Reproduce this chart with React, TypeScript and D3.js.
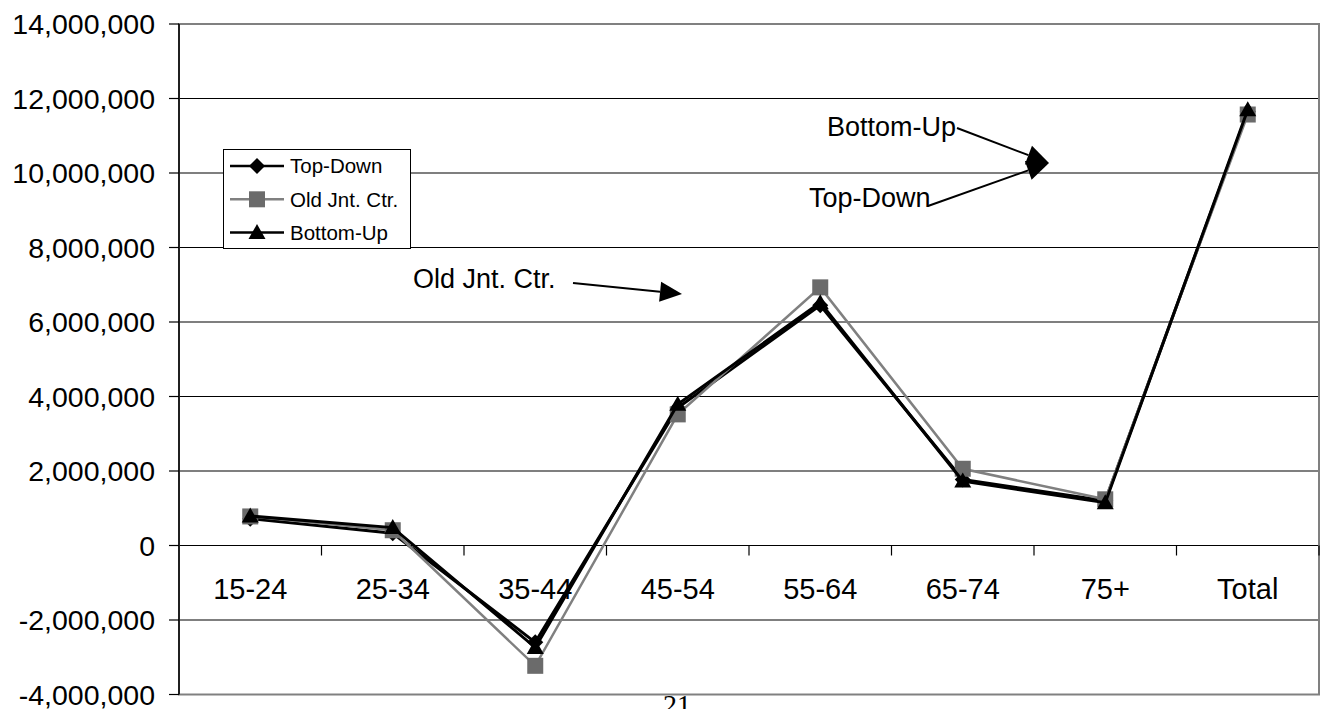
import React from "react";
import * as d3 from "d3";

// values
const categories = ["15-24", "25-34", "35-44", "45-54", "55-64", "65-74", "75+", "Total"];
const topDown = [720000, 330000, -2600000, 3700000, 6450000, 1770000, 1200000, 11650000];
const oldJntCtr = [780000, 410000, -3230000, 3520000, 6930000, 2060000, 1240000, 11570000];
const bottomUp = [790000, 480000, -2740000, 3790000, 6520000, 1730000, 1150000, 11700000];
const yTicks = [-4000000, -2000000, 0, 2000000, 4000000, 6000000, 8000000, 10000000, 12000000, 14000000];
const seriesNames = ["Top-Down", "Old Jnt. Ctr.", "Bottom-Up"];

const width = 1323;
const height = 709;
const plot = { left: 179, right: 1319, top: 24, bottom: 694.5 };
const sans = "'Liberation Sans', Arial, sans-serif";

const fmt = d3
    .formatLocale({ decimal: ".", thousands: ",", grouping: [3], currency: ["$", ""], minus: "-" })
    .format(",");

const diamond = (r: number) => `M0,${-r}L${r},0L0,${r}L${-r},0Z`;
const triangle = "M0,-8.5L8.5,6.5L-8.5,6.5Z";

const Marker = ({ kind, x, y }: any) => {
    if (kind === 0) return <path d={diamond(8)} transform={`translate(${x},${y})`} fill="#000" />;
    if (kind === 1) return <rect x={x - 8} y={y - 8} width={16} height={16} fill="#6b6b6b" />;
    return <path d={triangle} transform={`translate(${x},${y})`} fill="#000" />;
};

// line with a filled arrow head at (x2, y2)
const Arrow = ({ x1, y1, x2, y2 }: any) => {
    const len = 22;
    const half = 10;
    const a = Math.atan2(y2 - y1, x2 - x1);
    const bx = x2 - len * Math.cos(a);
    const by = y2 - len * Math.sin(a);
    const px = -Math.sin(a) * half;
    const py = Math.cos(a) * half;
    return (
        <g>
            <line x1={x1} y1={y1} x2={bx} y2={by} stroke="#000" strokeWidth={2} />
            <path d={`M${x2},${y2}L${bx + px},${by + py}L${bx - px},${by - py}Z`} fill="#000" />
        </g>
    );
};

export default function App() {
    const x = d3.scaleBand().domain(categories).range([plot.left, plot.right]);
    const y = d3.scaleLinear().domain([-4000000, 14000000]).range([plot.bottom, plot.top]);
    const cx = (i: number) => (x(categories[i]) as number) + x.bandwidth() / 2;
    const line = d3
        .line<number>()
        .x((_, i) => cx(i))
        .y((d) => y(d));

    const series = [
        { values: topDown, color: "#000", w: 3 },
        { values: oldJntCtr, color: "#808080", w: 2.5 },
        { values: bottomUp, color: "#000", w: 3 },
    ];

    const boundaries = categories.map((c) => x(c) as number).slice(1).concat([plot.right]);

    return (
        <svg
            width={width}
            height={height}
            style={{ position: "absolute", left: 0, top: 0, background: "#fff" }}
        >
            <rect width={width} height={height} fill="#fff" />
            {/* page number behind the plot */}
            <text x={677} y={714} fontFamily="'Liberation Serif', 'Times New Roman', serif" fontSize={28} textAnchor="middle">
                21
            </text>
            <rect
                x={plot.left}
                y={plot.top}
                width={plot.right - plot.left}
                height={plot.bottom - plot.top}
                fill="#fff"
            />
            {/* gridlines */}
            {yTicks.slice(1, -1).map((t) => (
                <line key={t} x1={plot.left} x2={plot.right} y1={y(t)} y2={y(t)} stroke="#000" strokeWidth={1.2} />
            ))}
            <rect
                x={plot.left}
                y={plot.top}
                width={plot.right - plot.left}
                height={plot.bottom - plot.top}
                fill="none"
                stroke="#808080"
                strokeWidth={2}
            />
            {/* y axis */}
            <line x1={plot.left} x2={plot.left} y1={plot.top} y2={plot.bottom} stroke="#000" strokeWidth={1.5} />
            {yTicks.map((t) => (
                <g key={t}>
                    <line x1={plot.left - 10} x2={plot.left} y1={y(t)} y2={y(t)} stroke="#000" strokeWidth={1.2} />
                    <text x={155} y={y(t)} dy="0.36em" textAnchor="end" fontFamily={sans} fontSize={28.5}>
                        {fmt(t)}
                    </text>
                </g>
            ))}
            {/* category axis at zero */}
            {boundaries.map((b, i) => (
                <line key={i} x1={b} x2={b} y1={y(0)} y2={y(0) + 10} stroke="#000" strokeWidth={1.2} />
            ))}
            {categories.map((c, i) => (
                <text key={c} x={cx(i)} y={599} textAnchor="middle" fontFamily={sans} fontSize={29}>
                    {c}
                </text>
            ))}
            {/* series */}
            {series.map((s, k) => (
                <g key={k}>
                    <path d={line(s.values) as string} fill="none" stroke={s.color} strokeWidth={s.w} />
                    {s.values.map((v, i) => (
                        <Marker key={i} kind={k} x={cx(i)} y={y(v)} />
                    ))}
                </g>
            ))}
            {/* legend */}
            <g>
                <rect x={223.5} y={149.5} width={187} height={99} fill="#fff" stroke="#000" strokeWidth={1} />
                {seriesNames.map((n, k) => {
                    const ry = 166 + k * 33.3;
                    return (
                        <g key={n}>
                            <line x1={230} x2={284} y1={ry} y2={ry} stroke={series[k].color} strokeWidth={2.5} />
                            <Marker kind={k} x={257} y={ry} />
                            <text x={290} y={ry} dy="0.36em" fontFamily={sans} fontSize={20.5}>
                                {n}
                            </text>
                        </g>
                    );
                })}
            </g>
            {/* annotations */}
            <text x={413} y={288} fontFamily={sans} fontSize={27}>
                Old Jnt. Ctr.
            </text>
            <Arrow x1={573} y1={283} x2={682} y2={294} />
            <text x={827} y={136} fontFamily={sans} fontSize={27}>
                Bottom-Up
            </text>
            <Arrow x1={957} y1={128} x2={1049} y2={163} />
            <text x={809} y={207} fontFamily={sans} fontSize={27}>
                Top-Down
            </text>
            <Arrow x1={928} y1={206} x2={1049} y2={163} />
        </svg>
    );
}
